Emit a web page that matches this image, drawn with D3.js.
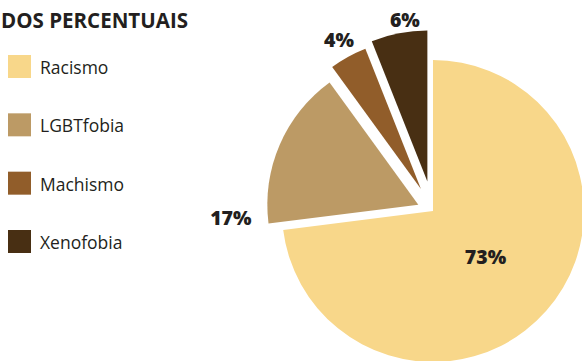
<!DOCTYPE html>
<html>
<head>
<meta charset="utf-8">
<script src="https://cdn.jsdelivr.net/npm/d3@7"></script>
<style>
  html, body { margin: 0; padding: 0; background: #fff; }
  svg { display: block; }
</style>
</head>
<body>
<svg id="chart" width="582" height="361"></svg>
<script>
// Shares of reported cases by type of discrimination
const categories = ["Racismo", "LGBTfobia", "Machismo", "Xenofobia"];
const values = [73, 17, 4, 6];
const valueLabels = ["73%", "17%", "4%", "6%"];
const colors = ["#f8d78a", "#bc9a65", "#915d2a", "#482f13"];
const title = "DOS PERCENTUAIS";

const W = 582, H = 361;
const svg = d3.select("#chart");
const font = "'Open Sans', 'Noto Sans', sans-serif";
const ink = "#231f20";

// Title
svg.append("text")
  .attr("x", 1).attr("y", 28)
  .attr("font-family", font)
  .attr("font-weight", 700)
  .attr("font-size", 21)
  .attr("textLength", 187)
  .attr("lengthAdjust", "spacingAndGlyphs")
  .attr("fill", ink)
  .text(title);

// Legend
const legendY = d3.scalePoint().domain(categories).range([55, 230]);
const legend = svg.append("g").selectAll("g")
  .data(categories)
  .join("g")
  .attr("transform", d => `translate(8,${legendY(d)})`);
legend.append("rect")
  .attr("width", 23).attr("height", 23)
  .attr("fill", (d, i) => colors[i]);
legend.append("text")
  .attr("x", 32).attr("y", 19)
  .attr("font-family", font)
  .attr("font-size", 17.5)
  .attr("fill", ink)
  .text(d => d);

// Pie
const cx = 433, cy = 211, R = 151;
const explode = [0, 16, 25, 30];          // pull-out distance per slice
const labelRadius = [70, 188, 170, 163];  // distance of the value label from slice tip
const labelAngleShift = [0, -0.48, 0, 0.05];

const pie = d3.pie().sort(null).value(d => d)(values);
const arc = d3.arc().innerRadius(0).outerRadius(R);

const g = svg.append("g").attr("transform", `translate(${cx},${cy})`);

const slices = g.selectAll("g.slice")
  .data(pie)
  .join("g")
  .attr("class", "slice")
  .attr("transform", (d, i) => {
    const a = (d.startAngle + d.endAngle) / 2;
    return `translate(${Math.sin(a) * explode[i]},${-Math.cos(a) * explode[i]})`;
  });

slices.append("path")
  .attr("d", arc)
  .attr("fill", (d, i) => colors[i]);

slices.append("text")
  .attr("transform", (d, i) => {
    const a = (d.startAngle + d.endAngle) / 2 + labelAngleShift[i];
    return `translate(${Math.sin(a) * labelRadius[i]},${-Math.cos(a) * labelRadius[i]})`;
  })
  .attr("text-anchor", "middle")
  .attr("dy", "0.36em")
  .attr("font-family", font)
  .attr("font-weight", 800)
  .attr("font-size", 19.5)
  .attr("fill", ink)
  .text((d, i) => valueLabels[i]);
</script>
</body>
</html>
